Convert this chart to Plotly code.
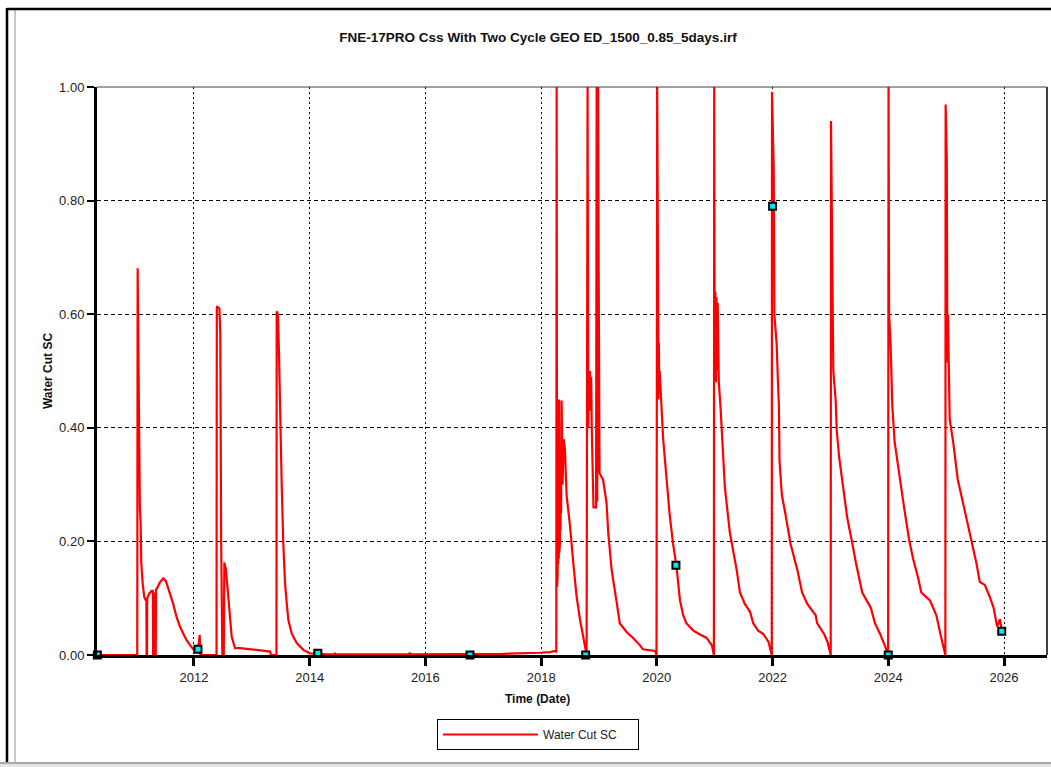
import datetime as dt
import numpy as np
import plotly.graph_objects as go

# ---------------- data ----------------
time_years = [
    2010.324, 2011.020, 2011.027, 2011.040, 2011.055, 2011.060, 2011.065, 2011.079, 2011.090,
    2011.113, 2011.141, 2011.165, 2011.178, 2011.182, 2011.190, 2011.192, 2011.228, 2011.269,
    2011.290, 2011.295, 2011.300, 2011.305, 2011.325, 2011.330, 2011.340, 2011.345, 2011.366,
    2011.412, 2011.470, 2011.516, 2011.585, 2011.642, 2011.700, 2011.758, 2011.815, 2011.874,
    2011.931, 2011.988, 2012.035, 2012.075, 2012.100, 2012.110, 2012.390,
    2012.395, 2012.440, 2012.455, 2012.470, 2012.490, 2012.515, 2012.525, 2012.553, 2012.594,
    2012.623, 2012.652, 2012.709, 2012.796, 2013.080, 2013.315, 2013.330, 2013.425,
    2013.429, 2013.450, 2013.469, 2013.486, 2013.500, 2013.515, 2013.543, 2013.573, 2013.602,
    2013.630, 2013.688, 2013.775, 2013.890, 2014.005, 2014.300, 2014.430, 2014.437, 2014.445,
    2015.700, 2015.730, 2015.760, 2017.340, 2017.980, 2018.150, 2018.240, 2018.262,
    2018.268, 2018.275, 2018.280, 2018.285, 2018.290, 2018.295, 2018.300, 2018.305, 2018.310,
    2018.315, 2018.320, 2018.325, 2018.330, 2018.335, 2018.340, 2018.345, 2018.354, 2018.370,
    2018.390, 2018.411, 2018.440, 2018.497, 2018.555, 2018.613, 2018.671, 2018.728, 2018.770,
    2018.786, 2018.803, 2018.815, 2018.825, 2018.835, 2018.845, 2018.855, 2018.865, 2018.875,
    2018.885, 2018.895, 2018.905, 2018.950, 2018.960, 2018.970, 2018.985, 2018.995, 2019.000,
    2019.010, 2019.070, 2019.130, 2019.160, 2019.220, 2019.310, 2019.360, 2019.480, 2019.590,
    2019.710, 2019.760, 2019.970, 2019.995,
    2020.007, 2020.025, 2020.030, 2020.035, 2020.045, 2020.050, 2020.080, 2020.110, 2020.165,
    2020.220, 2020.280, 2020.340, 2020.400, 2020.455, 2020.510, 2020.630, 2020.745, 2020.860,
    2020.950, 2020.975, 2020.985,
    2020.990, 2021.000, 2021.010, 2021.020, 2021.030, 2021.040, 2021.050, 2021.060, 2021.070,
    2021.100, 2021.120, 2021.150, 2021.175, 2021.260, 2021.320, 2021.380, 2021.435, 2021.520,
    2021.610, 2021.665, 2021.750, 2021.840, 2021.930, 2021.970, 2021.985,
    2021.990, 2022.020, 2022.030, 2022.070, 2022.090, 2022.110, 2022.120, 2022.160, 2022.220,
    2022.310, 2022.430, 2022.510, 2022.600, 2022.745, 2022.770, 2022.890, 2022.950, 2022.990,
    2023.005,
    2023.010, 2023.030, 2023.050, 2023.090, 2023.110, 2023.150, 2023.235, 2023.290, 2023.380,
    2023.440, 2023.550, 2023.700, 2023.770, 2023.860, 2023.940, 2023.980, 2023.998,
    2024.005, 2024.015, 2024.040, 2024.070, 2024.110, 2024.200, 2024.270, 2024.360, 2024.430,
    2024.515, 2024.570, 2024.720, 2024.830, 2024.900, 2024.975, 2024.985,
    2024.990, 2025.010, 2025.020, 2025.030, 2025.060, 2025.120, 2025.200, 2025.290, 2025.375,
    2025.470, 2025.520, 2025.580, 2025.670, 2025.750, 2025.820, 2025.880, 2025.930, 2025.960,
]

water_cut = [
    0.000, 0.000, 0.681, 0.500, 0.378, 0.360, 0.260, 0.232, 0.162,
    0.127, 0.102, 0.097, 0.097, 0.000, 0.000, 0.100, 0.108, 0.113,
    0.113, 0.000, 0.000, 0.108, 0.108, 0.000, 0.000, 0.115, 0.118,
    0.128, 0.135, 0.130, 0.109, 0.090, 0.067, 0.050, 0.038, 0.026,
    0.018, 0.010, 0.006, 0.015, 0.035, 0.000, 0.000,
    0.614, 0.610, 0.567, 0.200, 0.000, 0.000, 0.163, 0.150, 0.097,
    0.056, 0.032, 0.012, 0.012, 0.009, 0.006, 0.000, 0.000,
    0.605, 0.600, 0.530, 0.437, 0.360, 0.302, 0.197, 0.127, 0.092,
    0.062, 0.038, 0.021, 0.009, 0.003, 0.001, 0.001, 0.004, 0.001,
    0.001, 0.003, 0.001, 0.002, 0.004, 0.005, 0.007, 0.005,
    1.000, 0.120, 0.390, 0.140, 0.370, 0.160, 0.400, 0.170, 0.450,
    0.180, 0.400, 0.200, 0.360, 0.220, 0.370, 0.250, 0.448, 0.300,
    0.380, 0.362, 0.282, 0.229, 0.163, 0.103, 0.063, 0.030, 0.010,
    0.000, 1.000, 0.400, 0.490, 0.430, 0.500, 0.450, 0.490, 0.400,
    0.350, 0.300, 0.260, 0.260, 1.000, 0.270, 1.000, 0.674, 0.450,
    0.320, 0.309, 0.269, 0.216, 0.149, 0.090, 0.056, 0.040, 0.030,
    0.017, 0.010, 0.007, 0.000,
    1.000, 0.554, 0.450, 0.550, 0.460, 0.500, 0.440, 0.380, 0.315,
    0.249, 0.196, 0.156, 0.096, 0.070, 0.056, 0.043, 0.036, 0.030,
    0.017, 0.003, 0.000,
    1.000, 0.500, 0.640, 0.480, 0.630, 0.500, 0.620, 0.550, 0.480,
    0.435, 0.395, 0.349, 0.295, 0.216, 0.183, 0.149, 0.110, 0.090,
    0.076, 0.056, 0.043, 0.037, 0.023, 0.003, 0.000,
    0.991, 0.853, 0.600, 0.548, 0.488, 0.435, 0.342, 0.282, 0.249,
    0.196, 0.149, 0.110, 0.090, 0.070, 0.056, 0.037, 0.023, 0.003,
    0.000,
    0.940, 0.680, 0.500, 0.450, 0.395, 0.349, 0.282, 0.242, 0.196,
    0.163, 0.110, 0.083, 0.056, 0.037, 0.017, 0.003, 0.000,
    1.000, 0.600, 0.548, 0.440, 0.375, 0.309, 0.262, 0.203, 0.169,
    0.136, 0.110, 0.096, 0.070, 0.037, 0.003, 0.000,
    0.969, 0.870, 0.515, 0.600, 0.415, 0.375, 0.309, 0.269, 0.229,
    0.189, 0.163, 0.129, 0.123, 0.103, 0.083, 0.050, 0.063, 0.043,
]

marker_years = [2010.33, 2012.07, 2014.14, 2016.77, 2018.77, 2020.33, 2022.00, 2024.00, 2025.96]
marker_values = [0.000, 0.010, 0.003, 0.000, 0.000, 0.158, 0.790, 0.000, 0.042]

x_tick_years = [2012, 2014, 2016, 2018, 2020, 2022, 2024, 2026]
y_tick_values = [0.0, 0.2, 0.4, 0.6, 0.8, 1.0]
x_range_years = [2010.324, 2026.743]

title_text = "FNE-17PRO Css With Two Cycle GEO ED_1500_0.85_5days.irf"
series_name = "Water Cut SC"


def to_date(y):
    year = int(np.floor(y))
    start = dt.datetime(year, 1, 1)
    end = dt.datetime(year + 1, 1, 1)
    return start + (end - start) * (y - year)


x_dates = [to_date(v) for v in time_years]
m_dates = [to_date(v) for v in marker_years]

FONT = "Liberation Sans, Arial, sans-serif"

fig = go.Figure()
fig.add_trace(go.Scatter(
    x=x_dates, y=water_cut, mode="lines", name=series_name,
    line=dict(color="#ff0000", width=2.2), showlegend=True,
))
fig.add_trace(go.Scatter(
    x=m_dates, y=marker_values, mode="markers", showlegend=False,
    marker=dict(symbol="square", size=7, color="#00e8f0",
                line=dict(color="black", width=2)),
    cliponaxis=False,
))

# plot area: px x 97..1047, y 87..655
L, R, T, B = 97, 4, 87, 112
W, H = 1051 - L - R, 767 - T - B


def px_x(p):
    return (p - L) / W


def px_y(p):
    return (767 - B - p) / H


fig.update_layout(
    width=1051, height=767,
    margin=dict(l=L, r=R, t=T, b=B, pad=0),
    paper_bgcolor="white", plot_bgcolor="white",
    font=dict(family=FONT, size=12, color="#222222"),
    title=dict(text="<b>" + title_text + "</b>", x=538 / 1051, xref="container",
               xanchor="center", y=1 - 37 / 767, yref="container", yanchor="middle",
               font=dict(family=FONT, size=13.5, color="#111111")),
    showlegend=True,
    legend=dict(x=px_x(437), y=px_y(719), xanchor="left", yanchor="top",
                orientation="h",
                bordercolor="black", borderwidth=1, bgcolor="white",
                font=dict(family=FONT, size=12, color="#222222"),
                itemwidth=95, entrywidth=90, entrywidthmode="pixels"),
)

fig.update_xaxes(
    type="date",
    range=[to_date(x_range_years[0]), to_date(x_range_years[1])],
    tickvals=[to_date(v) for v in x_tick_years],
    ticktext=[str(v) for v in x_tick_years],
    showgrid=True, gridcolor="black", gridwidth=1, griddash="2px,3px",
    showline=True, linecolor="black", linewidth=3,
    ticks="outside", ticklen=8, tickwidth=3, tickcolor="black",
    tickfont=dict(family=FONT, size=13, color="#222222"),
    zeroline=False,
)
fig.update_yaxes(
    range=[0, 1],
    tickvals=y_tick_values,
    ticktext=["%.2f" % v for v in y_tick_values],
    showgrid=True, gridcolor="black", gridwidth=1, griddash="4px,3px",
    showline=True, linecolor="black", linewidth=3,
    ticks="outside", ticklen=7, tickwidth=2, tickcolor="black",
    tickfont=dict(family=FONT, size=13, color="#222222"),
    title=dict(text="<b>Water Cut SC</b>", font=dict(family=FONT, size=12, color="#111111"),
               standoff=4),
    zeroline=False,
)

# x-axis title placed as in the reference
fig.add_annotation(text="<b>Time (Date)</b>", xref="paper", yref="paper",
                   x=px_x(537), y=px_y(699), xanchor="center", yanchor="middle",
                   showarrow=False, font=dict(family=FONT, size=12, color="#111111"))

# plot-area frame (top / right)
fig.add_shape(type="line", xref="paper", yref="paper", x0=0, x1=1, y0=1, y1=1,
              line=dict(color="#404040", width=1))
fig.add_shape(type="line", xref="paper", yref="paper", x0=1, x1=1, y0=0, y1=1,
              line=dict(color="#404040", width=2))

# window chrome
fig.add_shape(type="line", xref="paper", yref="paper", x0=px_x(7), x1=px_x(7),
              y0=px_y(8), y1=px_y(767), line=dict(color="black", width=2.5))
fig.add_shape(type="line", xref="paper", yref="paper", x0=px_x(15), x1=px_x(15),
              y0=px_y(10), y1=px_y(762), line=dict(color="#c8c8c8", width=2))
fig.add_shape(type="line", xref="paper", yref="paper", x0=px_x(7), x1=px_x(1051),
              y0=px_y(9), y1=px_y(9), line=dict(color="black", width=2.5))
fig.add_shape(type="line", xref="paper", yref="paper", x0=px_x(0), x1=px_x(1051),
              y0=px_y(763), y1=px_y(763), line=dict(color="#a8a8a8", width=2))
fig.add_shape(type="rect", xref="paper", yref="paper", x0=px_x(0), x1=px_x(1051),
              y0=px_y(764), y1=px_y(767), line=dict(width=0), fillcolor="#e4e4e4")

fig.write_html("out.html")
